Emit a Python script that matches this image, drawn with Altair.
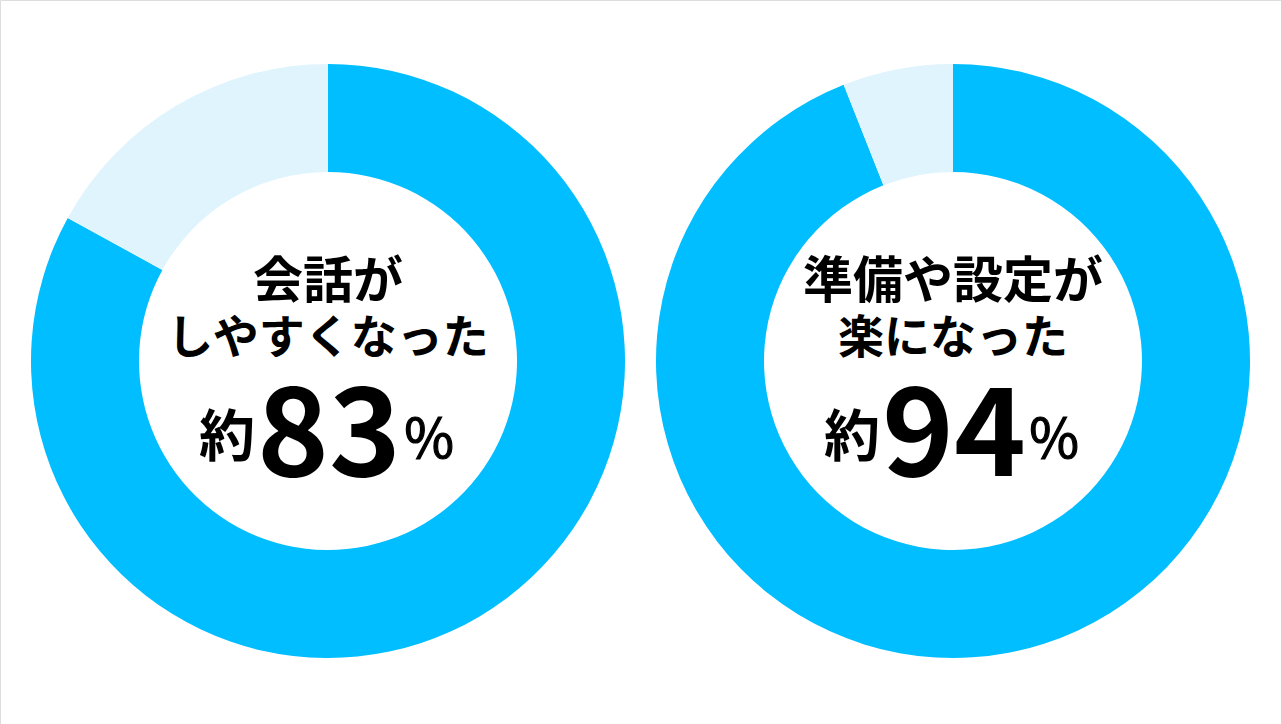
import altair as alt
import pandas as pd

# Survey results (percent answering "yes")
titles_line1 = ["会話が", "準備や設定が"]
titles_line2 = ["しやすくなった", "楽になった"]
shares = [83, 94]

BLUE = "#00BEFF"
PALE = "#E0F4FD"
FONT = "Noto Sans CJK JP"

centers_x = [328, 953]
center_y = 361
outer_r = 297
inner_r = 189

layers = []
for i in range(2):
    share = shares[i]
    donut = pd.DataFrame({
        "part": ["yes", "rest"],
        "value": [share, 100 - share],
        "order": [0, 1],
    })
    cx = centers_x[i]
    arc = alt.Chart(donut).mark_arc(
        innerRadius=inner_r, outerRadius=outer_r, stroke=None
    ).encode(
        theta=alt.Theta("value:Q", stack=True),
        order=alt.Order("order:Q"),
        color=alt.Color("part:N", scale=alt.Scale(domain=["yes", "rest"], range=[BLUE, PALE]), legend=None),
        x=alt.value(cx),
        y=alt.value(center_y),
    )
    layers.append(arc)

    lab = pd.DataFrame({
        "l1": [titles_line1[i]],
        "l2": [titles_line2[i]],
        "num": [str(share)],
        "pre": ["約"],
        "pct": ["%"],
    })
    base = alt.Chart(lab)
    layers.append(base.mark_text(font=FONT, fontSize=50, fontWeight="bold", baseline="alphabetic", align="center", color="black")
                  .encode(text="l1:N", x=alt.value(cx), y=alt.value(298)))
    layers.append(base.mark_text(font=FONT, fontSize=46, fontWeight="bold", baseline="alphabetic", align="center", color="black")
                  .encode(text="l2:N", x=alt.value(cx), y=alt.value(353)))
    layers.append(base.mark_text(font=FONT, fontSize=122, fontWeight="bold", baseline="alphabetic", align="center", color="black")
                  .encode(text="num:N", x=alt.value(cx + 1), y=alt.value(476)))
    layers.append(base.mark_text(font=FONT, fontSize=56, fontWeight="bold", baseline="alphabetic", align="center", color="black")
                  .encode(text="pre:N", x=alt.value(cx - 101), y=alt.value(456)))
    layers.append(base.mark_text(font=FONT, fontSize=54, fontWeight="normal", baseline="alphabetic", align="center", color="black",
                                 stroke="black", strokeWidth=1.2)
                  .encode(text="pct:N", x=alt.value(cx + 101), y=alt.value(458)))

chart = alt.layer(*layers).properties(
    width=1281, height=724, autosize=alt.AutoSizeParams(type="none"), padding=0
).configure_view(stroke=None).configure(background="white")

chart.save("out.html", embed_options={"renderer": "svg", "actions": False})
